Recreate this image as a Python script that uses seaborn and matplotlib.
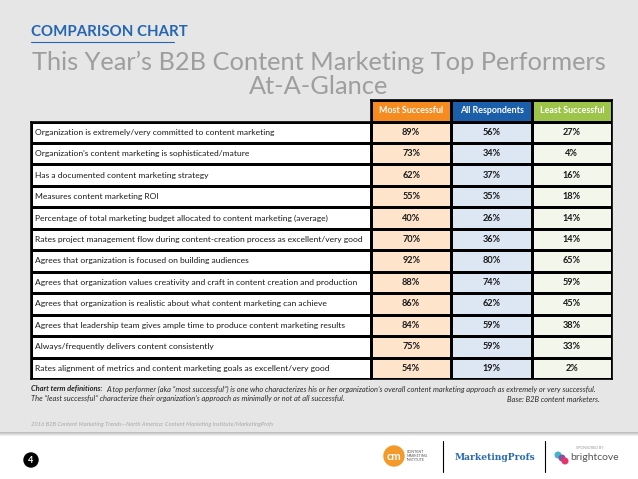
import numpy as np
import matplotlib
matplotlib.use("Agg")
import matplotlib.pyplot as plt
from matplotlib.colors import ListedColormap
from matplotlib.patches import Rectangle, Circle
import seaborn as sns

# chart data
groups = ["Most Successful", "All Respondents", "Least Successful"]
statements = [
    "Organization is extremely/very committed to content marketing",
    "Organization's content marketing is sophisticated/mature",
    "Has a documented content marketing strategy",
    "Measures content marketing ROI",
    "Percentage of total marketing budget allocated to content marketing (average)",
    "Rates project management flow during content-creation process as excellent/very good",
    "Agrees that organization is focused on building audiences",
    "Agrees that organization values creativity and craft in content creation and production",
    "Agrees that organization is realistic about what content marketing can achieve",
    "Agrees that leadership team gives ample time to produce content marketing results",
    "Always/frequently delivers content consistently",
    "Rates alignment of metrics and content marketing goals as excellent/very good",
]
most_successful = [89, 73, 62, 55, 40, 70, 92, 88, 86, 84, 75, 54]
all_respondents = [56, 34, 37, 35, 26, 36, 80, 74, 62, 59, 59, 19]
least_successful = [27, 4, 16, 18, 14, 14, 65, 59, 45, 38, 33, 2]

header_colors = ["#F68B1F", "#1B5FAA", "#9CC54A"]
cell_colors = ["#FDE4CB", "#DDE7F3", "#F3F6EA"]

sns.set_theme(style="white")
plt.rcParams["font.family"] = ["Lato", "DejaVu Sans"]

W, H = 638, 479
fig = plt.figure(figsize=(W / 100, H / 100), dpi=100)
fig.patch.set_facecolor("white")


def fx(px):
    return px / W


def fy(py):
    return 1 - py / H


# gray slide background with a soft shadow line
bg = fig.add_axes([0, 0, 1, 1], zorder=-10)
bg.set_xlim(0, W)
bg.set_ylim(H, 0)
bg.axis("off")
bg.add_patch(Rectangle((0, 0), W, 432, color="#E6E6E6", lw=0))
for i, c in enumerate(["#BDBDBD", "#CFCFCF", "#E0E0E0", "#EFEFEF"]):
    bg.add_patch(Rectangle((0, 432 + i), W, 1, color=c, lw=0))

# titles
fig.text(fx(31), fy(32), "COMPARISON CHART", color="#2466B0", fontsize=10.8,
         fontweight="bold", va="center", ha="left")
bg.plot([31, 174], [42, 42], color="#2466B0", lw=0.8)
fig.text(0.5, fy(62), "This Year\u2019s B2B Content Marketing Top Performers",
         color="#9E9E9E", fontsize=18.3, ha="center", va="center")
fig.text(0.5, fy(87), "At-A-Glance", color="#9E9E9E", fontsize=18.3,
         ha="center", va="center")

# table geometry
row_h = (379 - 121.5) / len(statements)
top_val = 121.5 - row_h

# values block (header row + data rows)
codes = np.vstack([[1, 2, 3]] + [[4, 5, 6]] * len(statements))
annot = np.array([groups] + [[f"{a}%", f"{b}%", f"{c}%"] for a, b, c in
                             zip(most_successful, all_respondents, least_successful)])
ax_v = fig.add_axes([fx(371), fy(379), fx(612 - 371), (379 - top_val) / H])
sns.heatmap(codes, ax=ax_v, cmap=ListedColormap(header_colors + cell_colors),
            vmin=0.5, vmax=6.5, cbar=False, annot=annot, fmt="",
            linewidths=0.9, linecolor="black",
            annot_kws={"fontsize": 6.6, "fontweight": "bold"})
for t in ax_v.texts:
    t.set_color("#1a1a1a")
    if t.get_text() in groups:
        t.set_color("white")
        t.set_fontsize(6.4)
ax_v.set_xticks([])
ax_v.set_yticks([])
for s in ax_v.spines.values():
    s.set_visible(True)
    s.set_color("black")
    s.set_linewidth(1.2)

# statement column
ax_l = fig.add_axes([fx(31), fy(379), fx(371 - 31), (379 - 121.5) / H])
sns.heatmap(np.zeros((len(statements), 1)), ax=ax_l,
            cmap=ListedColormap(["white"]), cbar=False,
            linewidths=0.9, linecolor="black")
for i, s in enumerate(statements):
    ax_l.text(0.012, i + 0.5, s, ha="left", va="center", fontsize=6.1,
              color="#1a1a1a")
ax_l.set_xticks([])
ax_l.set_yticks([])
for s in ax_l.spines.values():
    s.set_visible(True)
    s.set_color("black")
    s.set_linewidth(1.2)

# footnotes
lead = fig.text(fx(31), fy(389), "Chart term definitions:", fontsize=5.4,
                fontstyle="italic", fontweight="bold", color="#222222", va="center")
bg.annotate("A top performer (aka \u201cmost successful\u201d) is one who characterizes his or her "
            "organization\u2019s overall content marketing approach as extremely or very successful.",
            xy=(1, 0.5), xycoords=lead, xytext=(3, 0), textcoords="offset points",
            fontsize=5.4, fontstyle="italic", color="#2a2a2a", va="center")
fig.text(fx(31), fy(399),
         "The \u201cleast successful\u201d characterize their organization\u2019s approach as "
         "minimally or not at all successful.",
         fontsize=5.4, fontstyle="italic", color="#2a2a2a", va="center")
fig.text(fx(600), fy(399), "Base: B2B content marketers.", fontsize=5.4,
         fontstyle="italic", color="#2a2a2a", va="center", ha="right")
fig.text(fx(31), fy(424),
         "2016 B2B Content Marketing Trends\u2014North America: Content Marketing Institute/MarketingProfs",
         fontsize=4.2, fontstyle="italic", color="#A8A8A8", va="center")

# page number and sponsor marks
bg.add_patch(Circle((31, 460), 7, color="black"))
bg.text(31, 460.5, "4", color="white", fontsize=6.5, fontweight="bold",
        ha="center", va="center")
bg.add_patch(Circle((394, 456), 10, color="#F39A2B"))
bg.text(394, 456.5, "cm", color="white", fontsize=8, fontweight="bold",
        ha="center", va="center")
bg.text(407, 456, "CONTENT\nMARKETING\nINSTITUTE", fontsize=2.6,
        color="#555555", va="center", linespacing=1.1)
bg.plot([443, 443], [441, 472], color="black", lw=0.8)
bg.text(455, 457, "MarketingProfs", family="DejaVu Serif", fontsize=6.6,
        fontweight="bold", color="#2A6BB4", va="center")
bg.plot([545, 545], [441, 472], color="black", lw=0.8)
bg.text(590, 448, "SPONSORED BY", fontsize=2.6, color="#999999",
        ha="center", va="center")
bg.add_patch(Circle((558, 455), 2.8, color="#3DB8C8"))
bg.add_patch(Circle((562, 458), 2.8, color="#8D4FA3"))
bg.add_patch(Circle((565, 461), 2.8, color="#E8336A"))
bg.text(570, 457, "brightcove", fontsize=7.5, color="#555555", va="center")

fig.savefig("out.png", dpi=100, facecolor=fig.get_facecolor())
